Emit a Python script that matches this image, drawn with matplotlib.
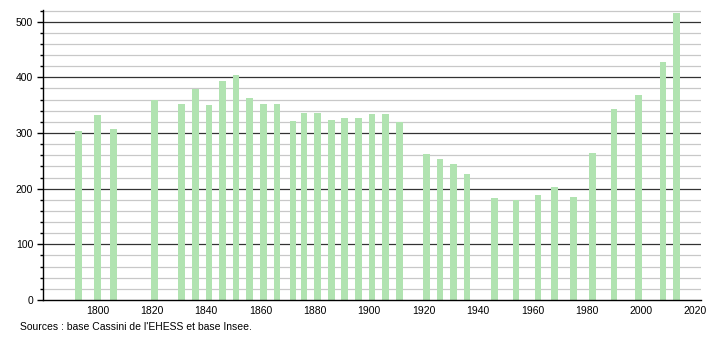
import matplotlib
matplotlib.use('Agg')
import matplotlib.pyplot as plt
import numpy as np

years = [1793, 1800, 1806, 1821, 1831, 1836, 1841, 1846, 1851, 1856,
         1861, 1866, 1872, 1876, 1881, 1886, 1891, 1896, 1901, 1906,
         1911, 1921, 1926, 1931, 1936, 1946, 1954, 1962, 1968, 1975,
         1982, 1990, 1999, 2008, 2013]
population = [304, 333, 307, 359, 352, 379, 351, 394, 405, 363,
              352, 352, 322, 336, 336, 324, 327, 327, 335, 335,
              320, 263, 254, 245, 227, 184, 180, 189, 203, 185,
              264, 343, 369, 428, 516]
source = "Sources : base Cassini de l'EHESS et base Insee."

plt.rcParams['font.family'] = ['Liberation Sans', 'DejaVu Sans']

fig = plt.figure(figsize=(7.1, 3.4), dpi=100)
ax = fig.add_axes([43/710, 40/340, 658/710, 290/340])

# grid: light every 20, dark every 100
for v in range(20, 521, 20):
    if v % 100 == 0:
        ax.axhline(v, color='#333333', lw=0.9, zorder=1)
    else:
        ax.axhline(v, color='#c8c8c8', lw=0.9, zorder=1)

ax.bar(years, population, width=2.45, color='#b1e3b1', zorder=2)

ax.set_xlim(1780, 2022)
ax.set_ylim(0, 521)
ax.set_xticks(range(1800, 2021, 20))
ax.set_yticks(range(0, 501, 100))
ax.set_yticks(range(0, 521, 20), minor=True)

for s in ['top', 'right']:
    ax.spines[s].set_visible(False)
ax.spines['left'].set_color('black')
ax.spines['bottom'].set_color('black')
ax.spines['left'].set_linewidth(1)
ax.spines['bottom'].set_linewidth(1)

ax.tick_params(axis='y', which='major', length=4, width=1, labelsize=7.5, pad=3)
ax.tick_params(axis='y', which='minor', length=2, width=1)
ax.tick_params(axis='x', length=0, labelsize=7.5, pad=4)

fig.text(20/710, 1 - 327/340, source, fontsize=7.5, va='center', ha='left')

fig.savefig('out.png', dpi=100)
